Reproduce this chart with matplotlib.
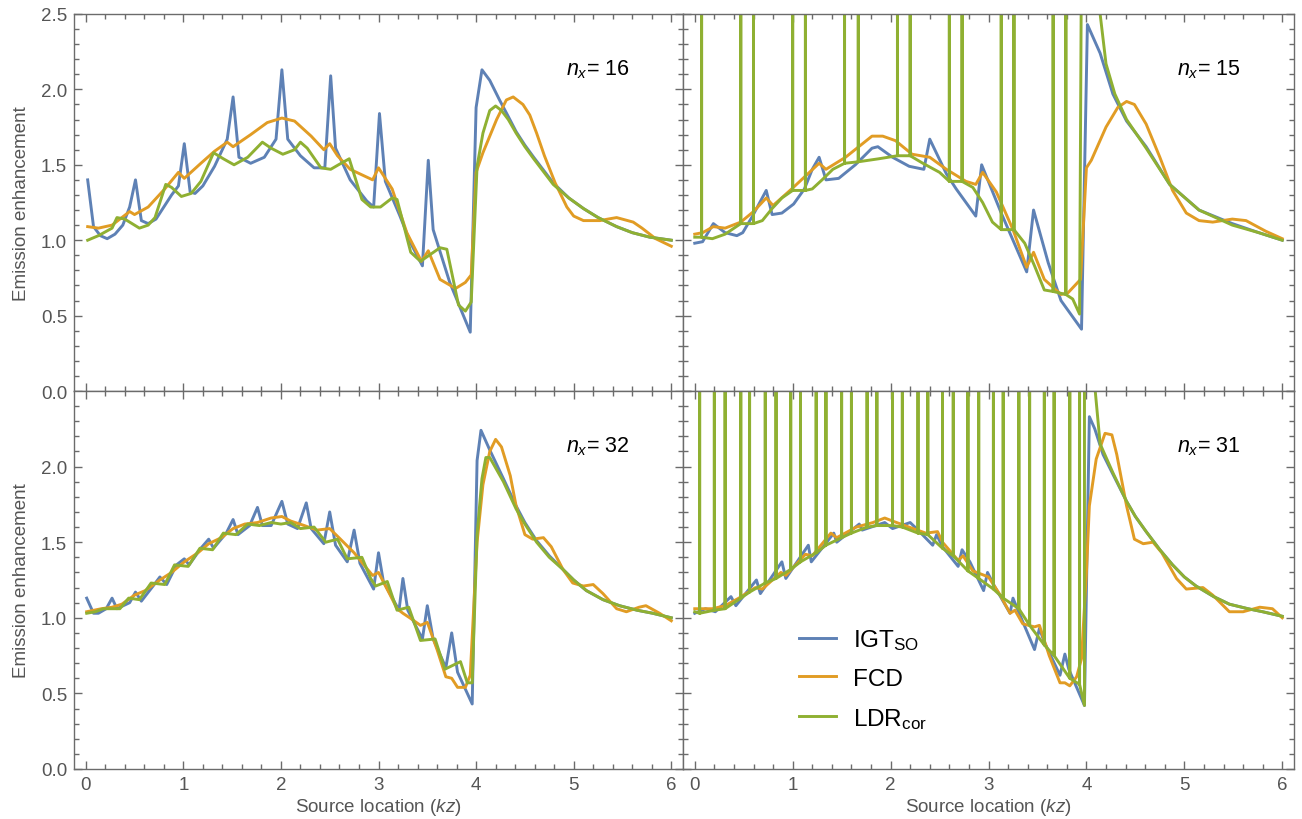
import numpy as np
import matplotlib.pyplot as plt
from matplotlib.ticker import MultipleLocator

plt.rcParams['font.family'] = ['Liberation Sans', 'DejaVu Sans']
plt.rcParams['mathtext.fontset'] = 'custom'
plt.rcParams['mathtext.rm'] = 'Liberation Sans'
plt.rcParams['mathtext.it'] = 'Liberation Sans:italic'

BLUE = "#5e81b5"
ORANGE = "#e19c24"
GREEN = "#8fb032"
FRAME = "#6b6b6b"
TEXT = "#555555"
OFF = 3.0  # values read as "above the frame"

# ---- n_x = 16 (top left) ----
igt16_x = [0.02, 0.08, 0.15, 0.22, 0.30, 0.38, 0.45, 0.51, 0.57, 0.64, 0.72, 0.80, 0.88, 0.95, 1.01, 1.07, 1.12, 1.20,
           1.32, 1.45, 1.51, 1.57, 1.69, 1.83, 1.95, 2.01, 2.07, 2.20, 2.34, 2.45, 2.51, 2.56, 2.71, 2.88, 2.95, 3.01,
           3.07, 3.22, 3.33, 3.45, 3.51, 3.56, 3.73, 3.94, 4.00, 4.06, 4.14, 4.24, 4.33, 4.41, 4.50, 4.59, 4.79, 4.95,
           5.10, 5.25, 5.44, 5.60, 5.78, 6.00]
igt16_y = [1.40, 1.09, 1.03, 1.01, 1.04, 1.10, 1.22, 1.40, 1.13, 1.11, 1.14, 1.22, 1.30, 1.36, 1.64, 1.32, 1.31, 1.36,
           1.49, 1.67, 1.95, 1.55, 1.51, 1.55, 1.67, 2.13, 1.67, 1.56, 1.48, 1.48, 2.09, 1.61, 1.40, 1.26, 1.22, 1.84,
           1.39, 1.16, 0.98, 0.83, 1.53, 1.07, 0.72, 0.39, 1.88, 2.13, 2.06, 1.93, 1.82, 1.72, 1.63, 1.55, 1.38, 1.28,
           1.21, 1.15, 1.09, 1.05, 1.02, 1.00]
fcd16_x = [0.02, 0.13, 0.27, 0.45, 0.50, 0.64, 0.81, 0.95, 1.01, 1.18, 1.32, 1.45, 1.51, 1.69, 1.86, 2.01, 2.14, 2.31,
           2.44, 2.50, 2.58, 2.71, 2.94, 3.00, 3.14, 3.29, 3.44, 3.51, 3.63, 3.79, 3.89, 3.95, 4.00, 4.07, 4.21, 4.31,
           4.38, 4.48, 4.55, 4.62, 4.70, 4.81, 4.93, 5.00, 5.10, 5.27, 5.35, 5.44, 5.61, 5.70, 5.84, 6.00]
fcd16_y = [1.09, 1.08, 1.10, 1.19, 1.17, 1.22, 1.34, 1.45, 1.41, 1.51, 1.59, 1.65, 1.62, 1.70, 1.78, 1.81, 1.79, 1.69,
           1.60, 1.64, 1.56, 1.47, 1.40, 1.48, 1.34, 1.05, 0.86, 0.93, 0.74, 0.68, 0.72, 0.77, 1.45, 1.58, 1.80, 1.93,
           1.95, 1.90, 1.83, 1.71, 1.56, 1.38, 1.22, 1.16, 1.13, 1.13, 1.14, 1.15, 1.12, 1.08, 1.01, 0.96]
ldr16_x = [0.02, 0.13, 0.27, 0.32, 0.40, 0.55, 0.64, 0.71, 0.82, 0.88, 0.98, 1.08, 1.18, 1.31, 1.41, 1.52, 1.66, 1.81,
           1.90, 2.02, 2.14, 2.20, 2.27, 2.41, 2.51, 2.59, 2.70, 2.83, 2.92, 3.02, 3.14, 3.19, 3.33, 3.43, 3.63, 3.70,
           3.82, 3.89, 3.95, 4.01, 4.07, 4.14, 4.20, 4.26, 4.33, 4.41, 4.50, 4.59, 4.79, 4.95, 5.10, 5.25, 5.44, 5.60,
           5.78, 6.00]
ldr16_y = [1.00, 1.03, 1.08, 1.15, 1.14, 1.08, 1.10, 1.15, 1.37, 1.35, 1.29, 1.31, 1.39, 1.58, 1.54, 1.50, 1.55, 1.65,
           1.61, 1.57, 1.60, 1.65, 1.61, 1.48, 1.47, 1.50, 1.54, 1.27, 1.22, 1.22, 1.28, 1.27, 0.92, 0.86, 0.95, 0.94,
           0.57, 0.53, 0.59, 1.49, 1.71, 1.86, 1.89, 1.86, 1.80, 1.71, 1.62, 1.54, 1.37, 1.28, 1.21, 1.15, 1.09, 1.05,
           1.02, 1.00]
ldr16_spikes = []

# ---- n_x = 15 (top right) ----
igt15_x = [0.00, 0.08, 0.19, 0.31, 0.43, 0.49, 0.59, 0.73, 0.79, 0.89, 1.01, 1.12, 1.20, 1.27, 1.34, 1.47, 1.64, 1.81,
           1.87, 2.02, 2.19, 2.34, 2.40, 2.57, 2.67, 2.87, 2.93, 3.13, 3.39, 3.46, 3.61, 3.74, 3.95, 4.01, 4.14, 4.27,
           4.41, 4.61, 4.85, 5.15, 5.49, 5.76, 6.00]
igt15_y = [0.98, 0.99, 1.11, 1.05, 1.03, 1.05, 1.16, 1.33, 1.17, 1.18, 1.24, 1.34, 1.47, 1.55, 1.40, 1.41, 1.50, 1.61,
           1.62, 1.55, 1.49, 1.47, 1.67, 1.44, 1.34, 1.16, 1.50, 1.18, 0.79, 1.20, 0.85, 0.60, 0.41, 2.43, 2.24, 1.97,
           1.79, 1.62, 1.37, 1.20, 1.11, 1.05, 1.00]
fcd15_x = [0.00, 0.08, 0.19, 0.31, 0.47, 0.60, 0.73, 0.80, 0.99, 1.27, 1.34, 1.54, 1.81, 1.92, 2.05, 2.22, 2.40, 2.57,
           2.77, 2.87, 2.94, 3.08, 3.25, 3.39, 3.46, 3.57, 3.74, 3.81, 3.94, 4.00, 4.05, 4.20, 4.32, 4.41, 4.49, 4.61,
           4.75, 4.88, 5.02, 5.15, 5.29, 5.49, 5.63, 5.83, 6.00]
fcd15_y = [1.04, 1.05, 1.09, 1.08, 1.12, 1.19, 1.28, 1.23, 1.34, 1.51, 1.47, 1.55, 1.69, 1.69, 1.66, 1.57, 1.55, 1.47,
           1.39, 1.37, 1.45, 1.32, 1.07, 0.82, 0.92, 0.74, 0.64, 0.65, 0.74, 1.48, 1.53, 1.75, 1.88, 1.92, 1.90, 1.77,
           1.55, 1.33, 1.18, 1.13, 1.12, 1.14, 1.13, 1.06, 1.01]
ldr15_x = [0.00, 0.07, 0.18, 0.31, 0.47, 0.60, 0.69, 0.79, 0.89, 1.00, 1.13, 1.20, 1.30, 1.41, 1.53, 1.67, 1.88, 2.07,
           2.20, 2.33, 2.50, 2.60, 2.73, 2.84, 2.94, 3.04, 3.13, 3.26, 3.37, 3.47, 3.57, 3.66, 3.79, 3.86, 3.93, 3.95,
           4.12, 4.14, 4.20, 4.29, 4.41, 4.61, 4.85, 5.15, 5.49, 5.76, 6.00]
ldr15_y = [1.02, 1.02, 1.01, 1.04, 1.11, 1.11, 1.13, 1.21, 1.28, 1.33, 1.33, 1.34, 1.40, 1.47, 1.51, 1.52, 1.54, 1.56,
           1.56, 1.51, 1.45, 1.39, 1.39, 1.35, 1.25, 1.12, 1.07, 1.07, 0.98, 0.83, 0.67, 0.66, 0.64, 0.61, 0.51, OFF,
           2.65, 2.50, 2.17, 1.97, 1.80, 1.61, 1.37, 1.20, 1.10, 1.05, 1.00]
ldr15_spikes = [0.07, 0.47, 0.60, 1.00, 1.13, 1.53, 1.67, 2.07, 2.20, 2.60, 2.73, 3.13, 3.26, 3.66, 3.79]

# ---- n_x = 32 (bottom left) ----
igt32_x = [0.01, 0.08, 0.13, 0.21, 0.27, 0.32, 0.45, 0.51, 0.57, 0.69, 0.76, 0.83, 0.93, 1.01, 1.06, 1.18, 1.26, 1.31,
           1.44, 1.51, 1.56, 1.68, 1.76, 1.81, 1.90, 2.01, 2.07, 2.17, 2.26, 2.31, 2.44, 2.50, 2.56, 2.68, 2.75, 2.81,
           2.95, 3.00, 3.05, 3.21, 3.25, 3.30, 3.45, 3.50, 3.56, 3.69, 3.75, 3.81, 3.96, 4.01, 4.05, 4.14, 4.28, 4.41,
           4.50, 4.62, 4.75, 4.89, 5.00, 5.13, 5.30, 5.47, 5.65, 5.81, 6.00]
igt32_y = [1.13, 1.03, 1.03, 1.06, 1.13, 1.06, 1.10, 1.17, 1.11, 1.21, 1.27, 1.22, 1.35, 1.39, 1.35, 1.46, 1.52, 1.46,
           1.56, 1.65, 1.55, 1.61, 1.73, 1.61, 1.61, 1.77, 1.62, 1.59, 1.76, 1.59, 1.49, 1.70, 1.48, 1.37, 1.58, 1.36,
           1.19, 1.43, 1.24, 1.05, 1.26, 1.05, 0.86, 1.08, 0.86, 0.67, 0.90, 0.64, 0.43, 2.04, 2.24, 2.11, 1.92, 1.74,
           1.63, 1.51, 1.41, 1.32, 1.25, 1.18, 1.12, 1.08, 1.05, 1.03, 1.00]
fcd32_x = [0.01, 0.16, 0.27, 0.37, 0.50, 0.61, 0.76, 0.88, 1.01, 1.15, 1.26, 1.39, 1.51, 1.63, 1.76, 1.90, 2.01, 2.10,
           2.24, 2.37, 2.50, 2.61, 2.75, 2.85, 2.94, 3.00, 3.12, 3.19, 3.25, 3.32, 3.43, 3.50, 3.60, 3.69, 3.75, 3.81,
           3.89, 3.94, 4.01, 4.07, 4.14, 4.20, 4.26, 4.35, 4.41, 4.50, 4.58, 4.69, 4.77, 4.89, 4.99, 5.10, 5.20, 5.30,
           5.44, 5.54, 5.67, 5.74, 5.88, 6.00]
fcd32_y = [1.04, 1.06, 1.07, 1.09, 1.15, 1.18, 1.25, 1.30, 1.37, 1.43, 1.49, 1.53, 1.59, 1.62, 1.63, 1.66, 1.67, 1.64,
           1.61, 1.58, 1.59, 1.52, 1.43, 1.35, 1.28, 1.30, 1.15, 1.06, 1.03, 1.00, 0.95, 0.97, 0.79, 0.61, 0.60, 0.54,
           0.54, 0.62, 1.50, 1.88, 2.10, 2.18, 2.13, 1.94, 1.74, 1.55, 1.52, 1.53, 1.47, 1.32, 1.23, 1.21, 1.22, 1.16,
           1.06, 1.04, 1.07, 1.08, 1.03, 0.98]
ldr32_x = [0.01, 0.10, 0.18, 0.30, 0.35, 0.44, 0.55, 0.67, 0.81, 0.91, 1.05, 1.17, 1.30, 1.41, 1.54, 1.66, 1.78, 1.90,
           2.00, 2.10, 2.20, 2.34, 2.46, 2.58, 2.68, 2.83, 2.92, 2.97, 3.09, 3.19, 3.31, 3.43, 3.58, 3.68, 3.84, 3.91,
           3.96, 4.01, 4.06, 4.10, 4.14, 4.28, 4.41, 4.50, 4.62, 4.75, 4.89, 5.00, 5.13, 5.30, 5.47, 5.65, 5.81, 6.00]
ldr32_y = [1.03, 1.04, 1.06, 1.06, 1.06, 1.13, 1.12, 1.23, 1.22, 1.35, 1.34, 1.46, 1.45, 1.56, 1.55, 1.62, 1.61, 1.63,
           1.62, 1.63, 1.59, 1.60, 1.50, 1.52, 1.39, 1.40, 1.26, 1.21, 1.24, 1.05, 1.07, 0.85, 0.86, 0.66, 0.71, 0.57,
           0.57, 1.55, 1.92, 2.06, 2.06, 1.90, 1.72, 1.62, 1.50, 1.40, 1.32, 1.25, 1.18, 1.12, 1.08, 1.05, 1.03, 1.00]
ldr32_spikes = []

# ---- n_x = 31 (bottom right) ----
igt31_x = [0.00, 0.11, 0.21, 0.37, 0.42, 0.63, 0.67, 0.89, 0.93, 1.16, 1.19, 1.42, 1.45, 1.68, 1.71, 1.94, 2.02, 2.20,
           2.28, 2.43, 2.47, 2.53, 2.69, 2.73, 2.81, 2.95, 2.99, 3.06, 3.22, 3.25, 3.32, 3.47, 3.52, 3.57, 3.73, 3.78,
           3.82, 3.98, 4.03, 4.085, 4.17, 4.27, 4.41, 4.50, 4.61, 4.75, 4.88, 5.00, 5.12, 5.30, 5.46, 5.65, 5.80, 6.00]
igt31_y = [1.03, 1.06, 1.04, 1.14, 1.08, 1.25, 1.16, 1.37, 1.26, 1.48, 1.37, 1.56, 1.50, 1.62, 1.58, 1.63, 1.59, 1.63,
           1.58, 1.48, 1.55, 1.47, 1.34, 1.45, 1.37, 1.18, 1.30, 1.21, 1.03, 1.13, 1.02, 0.79, 0.93, 0.84, 0.62, 0.76,
           0.66, 0.42, 2.33, 2.25, 2.08, 1.95, 1.77, 1.67, 1.57, 1.45, 1.35, 1.27, 1.21, 1.14, 1.09, 1.06, 1.04, 1.01]
fcd31_x = [0.00, 0.18, 0.31, 0.45, 0.62, 0.69, 0.88, 0.93, 1.13, 1.20, 1.39, 1.45, 1.65, 1.82, 1.94, 2.02, 2.23, 2.36,
           2.48, 2.53, 2.69, 2.74, 2.84, 3.00, 3.12, 3.22, 3.27, 3.35, 3.47, 3.52, 3.62, 3.73, 3.78, 3.83, 3.90, 3.95,
           4.00, 4.03, 4.10, 4.19, 4.26, 4.31, 4.41, 4.49, 4.58, 4.68, 4.77, 4.92, 5.02, 5.19, 5.29, 5.46, 5.60, 5.77,
           5.90, 6.00]
fcd31_y = [1.06, 1.06, 1.08, 1.13, 1.20, 1.19, 1.30, 1.28, 1.42, 1.41, 1.56, 1.53, 1.60, 1.63, 1.66, 1.64, 1.59, 1.56,
           1.57, 1.50, 1.38, 1.41, 1.31, 1.27, 1.15, 1.03, 1.05, 0.96, 0.94, 0.95, 0.75, 0.57, 0.57, 0.55, 0.61, 0.73,
           1.30, 1.74, 2.05, 2.22, 2.21, 2.08, 1.74, 1.52, 1.49, 1.50, 1.43, 1.26, 1.19, 1.20, 1.15, 1.04, 1.04, 1.07,
           1.06, 1.00]
ldr31_x = [0.00, 0.05, 0.20, 0.31, 0.47, 0.56, 0.72, 0.83, 0.98, 1.08, 1.24, 1.34, 1.50, 1.60, 1.76, 1.86, 2.02, 2.12,
           2.28, 2.38, 2.53, 2.64, 2.79, 2.90, 3.05, 3.15, 3.31, 3.42, 3.57, 3.67, 3.83, 3.93, 3.98, 3.98,
           4.07, 4.09, 4.14, 4.27, 4.41, 4.50, 4.61, 4.75, 4.88, 5.00, 5.12, 5.30, 5.46, 5.65, 5.80, 6.00]
ldr31_y = [1.04, 1.03, 1.05, 1.06, 1.13, 1.17, 1.23, 1.26, 1.32, 1.37, 1.43, 1.48, 1.53, 1.56, 1.60, 1.61, 1.61, 1.60,
           1.56, 1.55, 1.46, 1.41, 1.31, 1.26, 1.19, 1.13, 1.06, 0.95, 0.82, 0.75, 0.60, 0.56, 0.42, OFF,
           2.65, 2.50, 2.15, 1.96, 1.77, 1.67, 1.57, 1.45, 1.35, 1.27, 1.21, 1.14, 1.09, 1.06, 1.04, 1.01]
ldr31_spikes = [0.05, 0.20, 0.31, 0.47, 0.56, 0.72, 0.83, 0.98, 1.08, 1.24, 1.34, 1.50, 1.60, 1.76, 1.86, 2.02, 2.12,
                2.28, 2.38, 2.53, 2.64, 2.79, 2.90, 3.05, 3.15, 3.31, 3.42, 3.57, 3.67, 3.83, 3.93]

series_labels = ["IGT$_{\\mathrm{SO}}$", "FCD", "LDR$_{\\mathrm{cor}}$"]


def with_spikes(x, y, spikes):
    # each singular point is drawn as a vertical excursion off the top of the frame
    xs, ys = [], []
    for xi, yi in zip(x, y):
        xs.append(xi)
        ys.append(yi)
        if any(abs(xi - s) < 1e-9 for s in spikes):
            xs += [xi, xi]
            ys += [OFF, yi]
    return xs, ys


fig = plt.figure(figsize=(13.02, 8.2), dpi=100)
ax_tl = fig.add_axes([0.05684, 0.52195, 0.46774, 0.45976])
ax_tr = fig.add_axes([0.52458, 0.52195, 0.46928, 0.45976])
ax_bl = fig.add_axes([0.05684, 0.06098, 0.46774, 0.46098])
ax_br = fig.add_axes([0.52458, 0.06098, 0.46928, 0.46098])

panels = [
    (ax_tl, "16", igt16_x, igt16_y, fcd16_x, fcd16_y, ldr16_x, ldr16_y, ldr16_spikes),
    (ax_tr, "15", igt15_x, igt15_y, fcd15_x, fcd15_y, ldr15_x, ldr15_y, ldr15_spikes),
    (ax_bl, "32", igt32_x, igt32_y, fcd32_x, fcd32_y, ldr32_x, ldr32_y, ldr32_spikes),
    (ax_br, "31", igt31_x, igt31_y, fcd31_x, fcd31_y, ldr31_x, ldr31_y, ldr31_spikes),
]

for ax, nx, ix, iy, fx, fy, lx, ly, spikes in panels:
    gx, gy = with_spikes(lx, ly, spikes)
    ax.plot(ix, iy, color=BLUE, lw=2.1, label=series_labels[0])
    ax.plot(fx, fy, color=ORANGE, lw=2.1, label=series_labels[1])
    ax.plot(gx, gy, color=GREEN, lw=2.1, label=series_labels[2])

    ax.set_xlim(-0.12, 6.12)
    ax.set_ylim(0, 2.5)
    ax.xaxis.set_major_locator(MultipleLocator(1))
    ax.xaxis.set_minor_locator(MultipleLocator(0.2))
    ax.yaxis.set_major_locator(MultipleLocator(0.5))
    ax.yaxis.set_minor_locator(MultipleLocator(0.1))
    ax.tick_params(which="both", direction="in", top=True, right=True, color=FRAME,
                   labelcolor=TEXT, labelsize=13.5, pad=5)
    ax.tick_params(which="major", length=6, width=1.0)
    ax.tick_params(which="minor", length=3.5, width=1.0)
    for sp in ax.spines.values():
        sp.set_color(FRAME)
        sp.set_linewidth(1.0)

    ax.text(0.86, 0.855, r"$n_x$= " + nx, transform=ax.transAxes, ha="center", va="center",
            fontsize=15.5, color="black")

for ax in (ax_tl, ax_tr):
    ax.tick_params(labelbottom=False)
for ax in (ax_tr, ax_br):
    ax.tick_params(labelleft=False)
for ax in (ax_tl, ax_bl):
    ax.set_ylabel("Emission enhancement", fontsize=13.5, color=TEXT, labelpad=8)
for ax in (ax_bl, ax_br):
    ax.set_xlabel("Source location ($kz$)", fontsize=13.5, color=TEXT, labelpad=2)
ax_bl.set_yticks([0.0, 0.5, 1.0, 1.5, 2.0])
ax_bl.set_yticks(np.arange(0, 2.5, 0.1), minor=True)
ax_bl.yaxis.set_major_formatter(plt.FormatStrFormatter("%.1f"))
ax_tl.yaxis.set_major_formatter(plt.FormatStrFormatter("%.1f"))

ax_br.legend(loc="upper left", bbox_to_anchor=(0.19, 0.375), frameon=False, fontsize=17.5,
             handlelength=1.5, handletextpad=0.7, labelspacing=0.65, borderaxespad=0, borderpad=0)

fig.savefig("out.png", dpi=100)
